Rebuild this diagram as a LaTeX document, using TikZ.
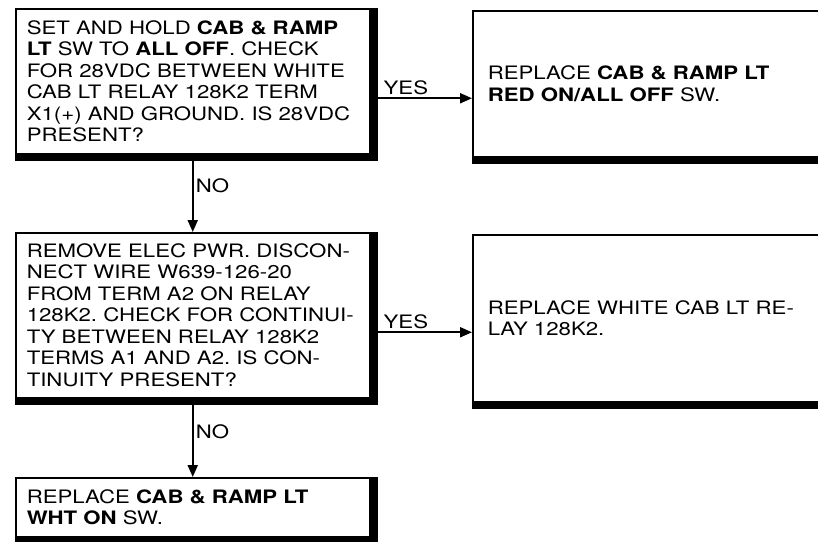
\documentclass[tikz,border=0pt]{standalone}
\usepackage{fontspec}
\setmainfont{TeX Gyre Heros}[FakeStretch=1.2]
\usetikzlibrary{arrows.meta,positioning}

\begin{document}
\begin{tikzpicture}[
  x=1pt,y=-1pt,
  box/.style={draw,line width=1.5pt,anchor=north west,inner xsep=11pt,inner ysep=0pt,align=left,text width=332pt,minimum width=348pt,font=\fontsize{18.5}{21.5}\selectfont\frenchspacing},
  wide/.style={box,minimum width=370pt,text width=340pt},
  arrow/.style={-{Triangle[length=12pt,width=10pt]},line width=2pt},
  lbl/.style={font=\fontsize{18.5}{21.5}\selectfont,inner sep=2pt}
]
\useasboundingbox (0,0) rectangle (818,541);
\clip (0,0) rectangle (818,541);
\node[box,minimum height=145pt] (setoff) at (15,8) {SET AND HOLD \textbf{CAB \& RAMP}\\\textbf{LT} SW TO \textbf{ALL OFF}. CHECK\\FOR 28VDC BETWEEN WHITE\\CAB LT RELAY 128K2 TERM\\X1(+) AND GROUND. IS 28VDC\\PRESENT?};
\node[wide,minimum height=146pt] (redsw) at (472,10) {REPLACE \textbf{CAB \& RAMP LT}\\\textbf{RED ON/ALL OFF} SW.};
\node[box,minimum height=165pt] (contcheck) at (15,232) {REMOVE ELEC PWR. DISCON-\\NECT WIRE W639-126-20\\FROM TERM A2 ON RELAY\\128K2. CHECK FOR CONTINUI-\\TY BETWEEN RELAY 128K2\\TERMS A1 AND A2. IS CON-\\TINUITY PRESENT?};
\node[wide,minimum height=167pt] (relay) at (472,234) {REPLACE WHITE CAB LT RE-\\LAY 128K2.};
\node[box,minimum height=59pt] (whtsw) at (15,477) {REPLACE \textbf{CAB \& RAMP LT}\\\textbf{WHT ON} SW.};
% heavy right and bottom edges
\foreach \n in {setoff,redsw,contcheck,relay,whtsw}{
  \fill (\n.north east) rectangle ([xshift=7pt]\n.south east);
  \fill (\n.south west) rectangle ([shift={(7pt,-6pt)}]\n.south east);
}
\draw[arrow] ([xshift=7pt,yshift=-17pt]setoff.east) -- ([yshift=-17pt]setoff.east -| redsw.west) node[lbl,above,pos=0.3] {YES};
\draw[arrow] ([yshift=-6pt]setoff.south) -- (contcheck.north) node[lbl,right,pos=0.35] {NO};
\draw[arrow] ([xshift=7pt,yshift=-17pt]contcheck.east) -- ([yshift=-17pt]contcheck.east -| relay.west) node[lbl,above,pos=0.3] {YES};
\draw[arrow] ([yshift=-6pt]contcheck.south) -- (whtsw.north) node[lbl,right,pos=0.38] {NO};
\end{tikzpicture}
\end{document}
